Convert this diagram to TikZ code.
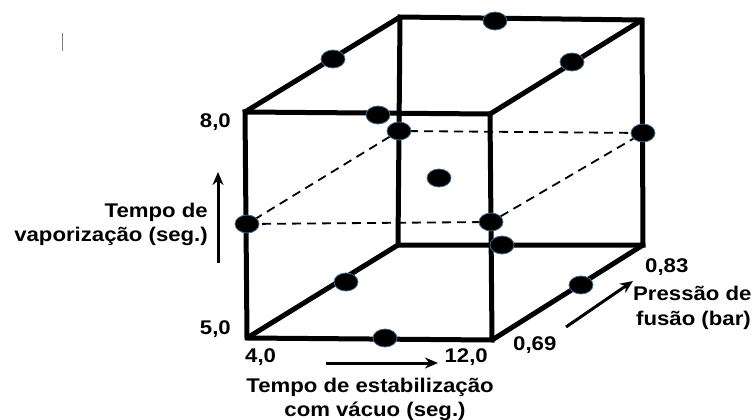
\documentclass[tikz,border=0pt]{standalone}
\usepackage{fontspec}
\setmainfont[FakeStretch=1.12]{Liberation Sans}
\usetikzlibrary{arrows.meta,shapes.geometric}
\definecolor{bordaponto}{RGB}{70,110,150}
\begin{document}
\begin{tikzpicture}[x=1pt,y=-1pt,>={Stealth[length=13pt,width=11pt]},
  aresta/.style={line width=5pt,line join=miter},
  meio/.style={line width=1.8pt,dash pattern=on 9pt off 6pt},
  seta/.style={line width=3pt,->},
  ponto/.style={ellipse,minimum width=24pt,minimum height=18pt,inner sep=0pt,
    fill=black,draw=bordaponto,line width=0.8pt},
  rotulo/.style={inner sep=0pt,font=\fontsize{19.8}{23}\selectfont\bfseries}]
\useasboundingbox (0,0) rectangle (755,420);
% cantos do cubo
\coordinate (A) at (245,112);
\coordinate (B) at (490,114);
\coordinate (C) at (492,340);
\coordinate (D) at (247,338);
\coordinate (E) at (400,17);
\coordinate (F) at (642,20);
\coordinate (G) at (643,245);
\coordinate (H) at (398,245);
% plano do meio (tracejado)
\coordinate (ML) at (247,224);
\coordinate (MR) at (491,222);
\coordinate (BL) at (399,131);
\coordinate (BR) at (643,133);
\draw[meio] (ML) -- (MR) -- (BR) -- (BL) -- cycle;
% arestas
\draw[aresta] (A) -- (B) -- (C) -- (D) -- cycle;
\draw[aresta] (E) -- (F) -- (G) -- (H) -- cycle;
\draw[aresta] (A) -- (E);
\draw[aresta] (B) -- (F);
\draw[aresta] (C) -- (G);
\draw[aresta] (D) -- (H);
% pontos do planejamento
\node[ponto] (p1) at (333,59) {};
\node[ponto] (p2) at (495,21) {};
\node[ponto] (p3) at (572,62) {};
\node[ponto] (p4) at (378,115) {};
\node[ponto] (p5) at (BL) {};
\node[ponto] (p6) at (BR) {};
\node[ponto] (p7) at (439,178) {};
\node[ponto] (p8) at (ML) {};
\node[ponto] (p9) at (MR) {};
\node[ponto] (p10) at (502,245) {};
\node[ponto] (p11) at (346,282) {};
\node[ponto] (p12) at (385,338) {};
\node[ponto] (p13) at (581,285) {};
% niveis
\node[rotulo,anchor=base east] (n80) at (231,127) {8,0};
\node[rotulo,anchor=base east] (n50) at (231,334) {5,0};
\node[rotulo,anchor=base west] (n40) at (245,362) {4,0};
\node[rotulo,anchor=base east] (n120) at (488,362) {12,0};
\node[rotulo,anchor=base west] (n069) at (513,350) {0,69};
\node[rotulo,anchor=base west] (n083) at (645,272) {0,83};
% fatores
\node[rotulo,anchor=base east] (vap1) at (208,217) {Tempo de};
\node[rotulo,anchor=base east] (vap2) at (208,241) {vaporização (seg.)};
\node[rotulo,anchor=base] (est1) at (370,392) {Tempo de estabilização};
\node[rotulo,anchor=base] (est2) at (375,416) {com vácuo (seg.)};
\node[rotulo,anchor=base west] (pre1) at (633,300) {Pressão de};
\node[rotulo,anchor=base west] (pre2) at (636,325) {fusão (bar)};
% setas
\coordinate (s1a) at (218,263);
\coordinate (s1b) at (218,172);
\coordinate (s2a) at (326,363);
\coordinate (s2b) at (438,363);
\coordinate (s3a) at (566,327);
\coordinate (s3b) at (633,281);
\draw[seta] (s1a) -- (s1b);
\draw[seta] (s2a) -- (s2b);
\draw[seta] (s3a) -- (s3b);
\draw[gray,line width=1pt] (62,33) -- (62,51);
\end{tikzpicture}
\end{document}
